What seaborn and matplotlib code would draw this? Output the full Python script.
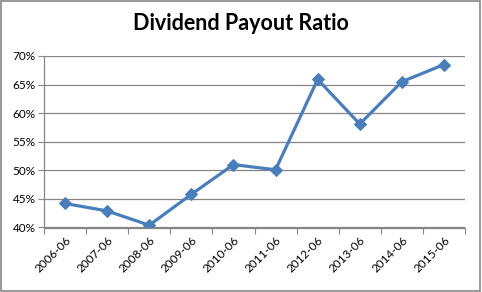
import matplotlib
matplotlib.use("Agg")
import matplotlib.pyplot as plt
import seaborn as sns
import pandas as pd
from matplotlib.ticker import FuncFormatter
from matplotlib.patches import Rectangle

categories = ["2006-06", "2007-06", "2008-06", "2009-06", "2010-06",
              "2011-06", "2012-06", "2013-06", "2014-06", "2015-06"]
payout = [44.2, 42.9, 40.4, 45.8, 51.0, 50.1, 65.9, 58.1, 65.5, 68.5]
yticks = [40, 45, 50, 55, 60, 65, 70]

sns.set_style("white")
plt.rcParams['font.family'] = ['Lato', 'DejaVu Sans']

df = pd.DataFrame({"period": categories, "ratio": payout})
df["x"] = range(len(categories))

fig = plt.figure(figsize=(4.82, 2.92), dpi=100)
ax = fig.add_axes([44/482, 1-227.5/292, (465-44)/482, (227.5-56)/292])

sns.lineplot(data=df, x="x", y="ratio", ax=ax, color="#4A7EBB", linewidth=2.3,
             marker="D", markersize=6, markeredgecolor="#4A7EBB")

ax.set_xlim(-0.5, len(categories) - 0.5)
ax.set_ylim(40, 70)
ax.set_yticks(yticks)
ax.yaxis.set_major_formatter(FuncFormatter(lambda v, p: f"{int(round(v))}%"))
ax.set_xticks(range(len(categories)))
ax.set_xticklabels(categories, rotation=45, ha="right", rotation_mode="anchor")
ax.set_xticks([i - 0.5 for i in range(len(categories) + 1)], minor=True)
ax.tick_params(axis="x", which="major", length=0, labelsize=8.5, pad=5, colors="#000000")
ax.tick_params(axis="x", which="minor", length=4, width=0.8, color="#868686", direction="out", bottom=True)
ax.tick_params(axis="y", length=4, width=0.8, color="#868686", labelsize=8.5, pad=2, colors="#000000", left=True)
ax.tick_params(axis="y", color="#868686")

ax.grid(axis="y", color="#868686", linewidth=0.9)
ax.set_axisbelow(True)
for s in ["top", "right"]:
    ax.spines[s].set_visible(False)
for s in ["left", "bottom"]:
    ax.spines[s].set_color("#868686")
    ax.spines[s].set_linewidth(0.9)
ax.set_xlabel("")
ax.set_ylabel("")

fig.text(0.5, 1-23/292, "Dividend Payout Ratio", ha="center", va="center",
         fontsize=15.5, fontweight="bold", color="#000000")

fig.patches.append(Rectangle((0.002, 0.004), 0.994, 0.992, transform=fig.transFigure,
                             fill=False, edgecolor="#868686", linewidth=1.2))

fig.savefig("out.png", dpi=100)
